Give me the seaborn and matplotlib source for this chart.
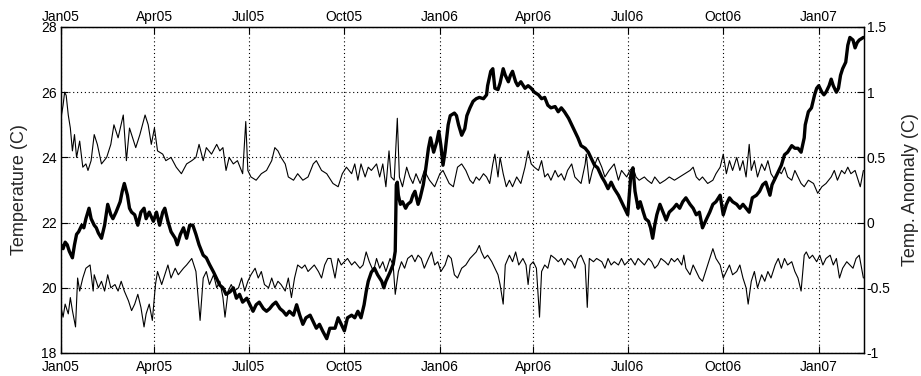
import numpy as np
import pandas as pd
import matplotlib
matplotlib.use("Agg")
import matplotlib.pyplot as plt
import matplotlib.dates as mdates
import seaborn as sns

# ---------------- data ----------------
start_date = "2005-01-01"
end_day = 773.6

upper_days = [0, 2, 3.5, 5, 7, 9, 11, 13, 15, 18, 21, 24, 26, 29, 32, 35, 39, 44, 48, 51,
              55, 60, 63, 66, 69, 72, 76, 81, 84, 87, 90, 93, 98, 101, 106, 111, 116, 121, 126, 130,
              133, 137, 140, 145, 150, 153, 156, 159, 162, 166, 170, 175, 178, 180, 183, 188, 193, 198, 203, 206,
              209, 212, 216, 219, 224, 228, 233, 238, 243, 246, 251, 256, 260, 262, 267, 271, 275, 280, 283, 286,
              289, 293, 296, 299, 304, 307, 310, 313, 316, 318, 321, 324, 326, 329, 333, 336, 339, 342, 346, 350,
              355, 360, 365, 368, 371, 374, 378, 382, 386, 390, 394, 397, 400, 403, 407, 410, 413, 416, 418, 421,
              423, 426, 429, 432, 435, 439, 443, 447, 450, 453, 456, 460, 463, 466, 469, 472, 476, 479, 482, 485,
              488, 492, 495, 498, 501, 505, 506, 509, 512, 517, 521, 524, 528, 533, 537, 540, 545, 548, 551, 554,
              557, 562, 565, 569, 572, 577, 582, 586, 591, 596, 601, 606, 609, 612, 615, 618, 623, 628, 631, 635,
              638, 641, 644, 647, 651, 654, 657, 660, 663, 665, 668, 671, 675, 678, 681, 684, 688, 691, 694, 697,
              700, 704, 707, 710, 713, 716, 720, 725, 729, 733, 737, 742, 745, 748, 752, 755, 758, 761, 765, 768,
              770, 773]
upper_temp = [25.2, 25.6, 26.0, 25.9, 25.3, 24.9, 24.2, 24.7, 24.0, 24.5, 23.7, 23.8, 23.6, 23.9, 24.7, 24.4, 23.8, 24.0, 24.4, 25.0,
              24.6, 25.3, 23.9, 24.9, 24.6, 24.3, 24.7, 25.3, 25.0, 24.4, 24.9, 24.2, 24.1, 23.9, 24.0, 23.7, 23.5, 23.8, 23.9, 24.0,
              24.4, 23.9, 24.3, 24.1, 24.4, 24.2, 24.3, 23.6, 24.0, 23.8, 23.9, 23.5, 25.1, 23.6, 23.4, 23.3, 23.5, 23.6, 23.9, 24.3,
              24.2, 24.0, 23.8, 23.4, 23.3, 23.5, 23.3, 23.4, 23.8, 23.9, 23.6, 23.5, 23.3, 23.2, 23.1, 23.5, 23.7, 23.5, 23.8, 23.3,
              23.8, 23.4, 23.7, 23.6, 23.8, 23.4, 23.8, 23.1, 24.2, 23.4, 23.3, 25.2, 23.4, 23.1, 23.7, 23.4, 23.2, 23.5, 23.2, 23.6,
              23.3, 23.1, 23.5, 23.6, 23.4, 23.2, 23.1, 23.7, 23.8, 23.6, 23.3, 23.2, 23.4, 23.3, 23.5, 23.4, 23.2, 23.8, 24.1, 23.4,
              24.0, 23.5, 23.1, 23.3, 23.1, 23.4, 23.2, 23.7, 24.2, 23.8, 23.7, 23.6, 23.9, 23.4, 23.5, 23.3, 23.6, 23.4, 23.5, 23.3,
              23.6, 23.8, 23.4, 23.3, 23.2, 23.8, 24.1, 23.2, 23.6, 24.0, 23.7, 23.4, 23.6, 23.8, 23.3, 23.6, 23.4, 23.6, 23.7, 23.4,
              23.3, 23.4, 23.3, 23.2, 23.4, 23.2, 23.3, 23.4, 23.3, 23.4, 23.5, 23.6, 23.7, 23.4, 23.3, 23.4, 23.2, 23.3, 23.5, 23.7,
              24.1, 23.5, 23.9, 23.6, 24.0, 23.6, 23.9, 23.4, 24.4, 23.6, 23.9, 23.4, 23.8, 23.6, 23.9, 23.5, 23.3, 23.6, 23.5, 23.7,
              23.4, 23.3, 23.6, 23.4, 23.2, 23.1, 23.3, 23.2, 22.9, 23.1, 23.2, 23.4, 23.6, 23.3, 23.6, 23.5, 23.7, 23.5, 23.6, 23.3,
              23.1, 23.6]

lower_days = [0, 2, 4, 7, 9, 11, 14, 16, 18, 21, 24, 28, 31, 32, 36, 39, 42, 45, 48, 52,
              55, 58, 61, 65, 68, 71, 74, 77, 80, 82, 85, 88, 91, 93, 97, 100, 103, 106, 110, 113,
              118, 121, 126, 130, 134, 137, 140, 143, 147, 150, 153, 156, 158, 161, 164, 167, 171, 174, 177, 180,
              183, 187, 190, 193, 196, 200, 203, 206, 209, 212, 216, 219, 222, 225, 228, 232, 235, 238, 241, 244,
              248, 251, 254, 257, 260, 264, 267, 270, 273, 276, 280, 283, 288, 291, 294, 297, 301, 304, 307, 310,
              313, 317, 320, 322, 325, 328, 331, 334, 338, 341, 344, 347, 350, 354, 357, 360, 363, 366, 370, 373,
              376, 379, 382, 386, 390, 394, 397, 400, 403, 405, 408, 411, 415, 418, 421, 423, 426, 428, 432, 435,
              438, 441, 445, 448, 450, 452, 455, 458, 461, 463, 466, 469, 472, 476, 479, 482, 485, 488, 492, 495,
              498, 501, 505, 507, 509, 513, 516, 521, 524, 527, 530, 533, 537, 540, 543, 546, 549, 553, 556, 559,
              562, 566, 569, 572, 575, 578, 582, 585, 588, 591, 594, 598, 600, 602, 606, 609, 612, 615, 618, 622,
              625, 628, 631, 635, 638, 641, 644, 647, 651, 654, 657, 660, 662, 665, 668, 671, 675, 678, 681, 684,
              688, 691, 694, 697, 700, 704, 707, 710, 713, 716, 718, 721, 724, 728, 731, 734, 737, 741, 744, 747,
              750, 753, 757, 760, 763, 766, 769, 773]
lower_temp = [19.4, 19.1, 19.5, 19.2, 19.7, 19.3, 18.8, 20.3, 19.9, 20.3, 20.6, 20.7, 19.9, 20.4, 20.0, 20.2, 19.9, 20.4, 20.0, 20.1,
              19.9, 20.2, 19.9, 19.6, 19.3, 19.5, 19.8, 19.4, 18.8, 19.2, 19.5, 19.0, 20.1, 20.5, 20.1, 20.4, 20.7, 20.3, 20.6, 20.4,
              20.6, 20.7, 20.9, 20.5, 19.0, 20.3, 20.5, 20.1, 20.4, 20.0, 20.2, 19.7, 19.1, 19.9, 20.1, 19.9, 20.0, 20.3, 19.9, 20.2,
              20.4, 20.6, 20.3, 20.5, 20.1, 20.0, 20.3, 20.0, 20.2, 20.1, 19.9, 20.3, 19.7, 20.3, 20.7, 20.6, 20.7, 20.5, 20.6, 20.7,
              20.5, 20.3, 20.7, 20.9, 20.9, 20.3, 20.9, 20.7, 20.8, 20.9, 20.7, 20.8, 20.6, 20.7, 21.1, 20.8, 20.5, 20.9, 20.6, 20.8,
              20.5, 20.9, 20.7, 19.8, 20.5, 20.8, 20.6, 20.9, 21.0, 20.8, 21.0, 20.9, 20.6, 20.9, 21.1, 20.7, 20.8, 20.5, 20.7, 21.0,
              20.9, 20.4, 20.3, 20.6, 20.7, 20.9, 21.0, 21.1, 21.3, 21.1, 20.9, 21.0, 20.8, 20.6, 20.4, 20.1, 19.5, 20.7, 21.0, 20.8,
              21.1, 20.7, 20.9, 20.7, 20.1, 20.7, 20.8, 20.6, 19.1, 20.5, 20.7, 20.6, 21.0, 20.9, 20.8, 20.9, 20.7, 20.9, 20.8, 20.6,
              20.9, 21.0, 20.7, 19.4, 20.9, 20.8, 20.9, 20.8, 20.6, 20.9, 20.7, 20.8, 20.7, 20.9, 20.7, 20.8, 20.9, 20.7, 20.9, 20.8,
              20.7, 20.9, 20.8, 20.6, 20.7, 20.9, 20.8, 20.7, 20.9, 20.8, 20.9, 20.7, 21.0, 20.6, 20.4, 20.7, 20.5, 20.3, 20.2, 20.6,
              20.9, 21.2, 20.9, 20.7, 20.3, 20.5, 20.7, 20.4, 20.5, 20.7, 20.3, 20.0, 19.5, 20.2, 20.5, 20.0, 20.4, 20.2, 20.5, 20.3,
              20.7, 20.9, 20.6, 20.9, 20.7, 20.8, 20.5, 20.3, 19.9, 21.0, 21.1, 20.9, 21.0, 20.8, 21.0, 20.7, 20.9, 21.0, 20.7, 20.9,
              20.3, 20.6, 20.8, 20.7, 20.6, 20.9, 21.0, 20.3]

anom_days = [0, 2, 4, 6, 8, 11, 13, 15, 17, 20, 22, 24, 27, 29, 32, 34, 36, 39, 42, 45,
             48, 50, 53, 57, 59, 61, 64, 66, 68, 71, 74, 77, 80, 82, 85, 89, 92, 95, 98, 100,
             103, 106, 110, 112, 115, 118, 121, 124, 127, 130, 133, 137, 140, 143, 147, 150, 153, 156, 159, 163,
             166, 169, 172, 175, 179, 182, 185, 188, 191, 195, 198, 201, 204, 207, 211, 214, 217, 220, 224, 227,
             230, 233, 236, 240, 243, 246, 249, 252, 256, 259, 264, 267, 270, 273, 276, 280, 283, 286, 289, 292,
             294, 296, 299, 302, 305, 309, 311, 313, 317, 320, 322, 323, 324, 325, 327, 329, 332, 334, 337, 339,
             341, 344, 346, 349, 351, 354, 356, 359, 362, 364, 366, 368, 370, 373, 375, 379, 381, 383, 386, 389,
             391, 394, 397, 400, 403, 407, 410, 411, 414, 416, 418, 421, 423, 426, 428, 431, 433, 435, 438, 440,
             443, 447, 450, 453, 456, 460, 463, 466, 469, 472, 476, 479, 482, 485, 489, 492, 495, 498, 501, 505,
             508, 511, 514, 517, 521, 524, 527, 530, 533, 537, 540, 543, 546, 549, 551, 553, 556, 558, 561, 563,
             566, 568, 570, 572, 574, 577, 580, 583, 586, 590, 593, 596, 599, 602, 606, 609, 612, 615, 618, 622,
             625, 628, 631, 635, 638, 641, 644, 647, 651, 654, 657, 660, 663, 666, 670, 673, 676, 679, 683, 685,
             688, 691, 694, 697, 700, 704, 707, 710, 713, 716, 717, 720, 723, 726, 728, 730, 733, 735, 737, 740,
             742, 744, 747, 749, 751, 753, 756, 758, 760, 763, 765, 767, 769, 773]
anom_vals = [-0.17, -0.20, -0.15, -0.17, -0.22, -0.27, -0.17, -0.09, -0.07, -0.02, -0.04, 0.03, 0.11, 0.03, -0.02, -0.04, -0.08, -0.12, -0.02, 0.14,
             0.06, 0.03, 0.08, 0.16, 0.24, 0.30, 0.21, 0.11, 0.08, 0.06, -0.02, 0.08, 0.11, 0.03, 0.08, 0.01, 0.08, -0.02, 0.08, 0.11,
             0.01, -0.07, -0.12, -0.17, -0.09, -0.04, -0.12, -0.02, -0.02, -0.09, -0.17, -0.25, -0.27, -0.32, -0.38, -0.43, -0.48, -0.50, -0.55, -0.53,
             -0.50, -0.58, -0.55, -0.61, -0.58, -0.63, -0.68, -0.63, -0.61, -0.66, -0.68, -0.66, -0.63, -0.61, -0.66, -0.68, -0.71, -0.68, -0.71, -0.63,
             -0.71, -0.78, -0.73, -0.71, -0.76, -0.81, -0.78, -0.83, -0.89, -0.81, -0.81, -0.73, -0.78, -0.83, -0.73, -0.71, -0.73, -0.68, -0.73, -0.63,
             -0.53, -0.45, -0.38, -0.35, -0.40, -0.45, -0.50, -0.45, -0.38, -0.32, -0.22, 0.29, 0.31, 0.21, 0.14, 0.16, 0.11, 0.14, 0.16, 0.21,
             0.24, 0.14, 0.19, 0.29, 0.39, 0.57, 0.65, 0.54, 0.62, 0.70, 0.59, 0.44, 0.54, 0.75, 0.82, 0.84, 0.82, 0.75, 0.67, 0.72,
             0.82, 0.88, 0.93, 0.95, 0.96, 0.95, 0.98, 1.05, 1.16, 1.18, 1.03, 1.02, 1.07, 1.18, 1.13, 1.08, 1.13, 1.16, 1.08, 1.05,
             1.08, 1.03, 1.05, 1.03, 1.00, 0.98, 0.95, 0.96, 0.90, 0.88, 0.89, 0.85, 0.88, 0.85, 0.80, 0.75, 0.70, 0.65, 0.59, 0.57,
             0.54, 0.49, 0.44, 0.42, 0.35, 0.31, 0.26, 0.31, 0.26, 0.21, 0.16, 0.11, 0.06, 0.37, 0.42, 0.24, 0.11, 0.16, 0.08, 0.03,
             0.01, -0.04, -0.12, -0.02, 0.06, 0.14, 0.08, 0.02, 0.08, 0.11, 0.14, 0.11, 0.16, 0.19, 0.14, 0.11, 0.06, 0.08, -0.04, 0.03,
             0.08, 0.14, 0.16, 0.21, 0.06, 0.14, 0.19, 0.16, 0.14, 0.11, 0.14, 0.11, 0.08, 0.19, 0.21, 0.24, 0.29, 0.31, 0.21, 0.29,
             0.34, 0.39, 0.44, 0.52, 0.54, 0.59, 0.57, 0.57, 0.54, 0.65, 0.75, 0.85, 0.88, 0.98, 1.03, 1.05, 1.00, 0.98, 1.00, 1.05,
             1.10, 1.05, 1.00, 1.03, 1.13, 1.18, 1.23, 1.36, 1.42, 1.40, 1.34, 1.38, 1.40, 1.42]

x_tick_dates = ["2005-01-01", "2005-04-01", "2005-07-01", "2005-10-01", "2006-01-01",
                "2006-04-01", "2006-07-01", "2006-10-01", "2007-01-01"]
left_ticks = [18, 20, 22, 24, 26, 28]
right_ticks = [-1, -0.5, 0, 0.5, 1, 1.5]
right_tick_labels = ["-1", "-0.5", "0", "0.5", "1", "1.5"]

# ---------------- frames ----------------
t0 = pd.Timestamp(start_date)
df_upper = pd.DataFrame({"date": t0 + pd.to_timedelta(upper_days, unit="D"), "temp": upper_temp})
df_lower = pd.DataFrame({"date": t0 + pd.to_timedelta(lower_days, unit="D"), "temp": lower_temp})
df_anom = pd.DataFrame({"date": t0 + pd.to_timedelta(anom_days, unit="D"), "anom": anom_vals})

# ---------------- style ----------------
sns.set_style("white")
plt.rcParams["font.family"] = ["Liberation Sans", "DejaVu Sans"]

W, H = 921, 376
fig = plt.figure(figsize=(W / 100, H / 100), dpi=100)
L, R, T, B = 61, 864, 27, 353
ax = fig.add_axes([L / W, 1 - B / H, (R - L) / W, (B - T) / H])
ax2 = ax.twinx()

sns.lineplot(data=df_upper, x="date", y="temp", ax=ax, color="black", lw=0.8,
             estimator=None, legend=False)
sns.lineplot(data=df_lower, x="date", y="temp", ax=ax, color="black", lw=0.8,
             estimator=None, legend=False)
sns.lineplot(data=df_anom, x="date", y="anom", ax=ax2, color="black", lw=2.4,
             estimator=None, legend=False)

xlim = (t0, t0 + pd.Timedelta(days=end_day))
ax.set_xlim(*xlim)
ax.set_ylim(18, 28)
ax2.set_ylim(-1, 1.5)

xt = pd.to_datetime(x_tick_dates)
ax.set_xticks(xt)
ax.xaxis.set_major_formatter(mdates.DateFormatter("%b%y"))
ax.set_yticks(left_ticks)
ax.set_yticklabels([str(v) for v in left_ticks])
ax2.set_yticks(right_ticks)
ax2.set_yticklabels(right_tick_labels)

# top tick labels via the twin's x axis (made visible again)
ax2.xaxis.set_visible(True)
ax2.set_xticks(xt)
ax2.xaxis.set_major_formatter(mdates.DateFormatter("%b%y"))
ax2.set_xlim(*xlim)
ax2.tick_params(axis="x", top=True, labeltop=True, bottom=False, labelbottom=False,
                direction="in", length=5, width=0.8, pad=2.5, labelsize=10, colors="black")

ax.tick_params(axis="x", bottom=True, labelbottom=True, top=False, labeltop=False,
               direction="in", length=5, width=0.8, pad=5, labelsize=10, colors="black")
ax.tick_params(axis="y", left=True, direction="in", length=5, width=0.8, pad=3,
               labelsize=10, colors="black")
ax2.tick_params(axis="y", right=True, direction="in", length=5, width=0.8, pad=2,
                labelsize=10, colors="black")

ax.grid(True, color="black", linestyle=(0, (1, 2.5)), linewidth=0.8)
ax2.grid(False)

for a in (ax, ax2):
    for s in a.spines.values():
        s.set_color("black")
        s.set_linewidth(0.9)

ax.set_xlabel("")
ax2.set_xlabel("")
ax.set_ylabel("Temperature (C)", fontsize=13)
ax2.set_ylabel("Temp. Anomaly (C)", fontsize=13)
ax.yaxis.set_label_coords((20 - L) / (R - L), 0.5)
ax.yaxis.label.set_va("center")
ax2.yaxis.set_label_coords((910 - L) / (R - L), 0.5)
ax2.yaxis.label.set_va("center")

fig.savefig("out.png", dpi=100)
